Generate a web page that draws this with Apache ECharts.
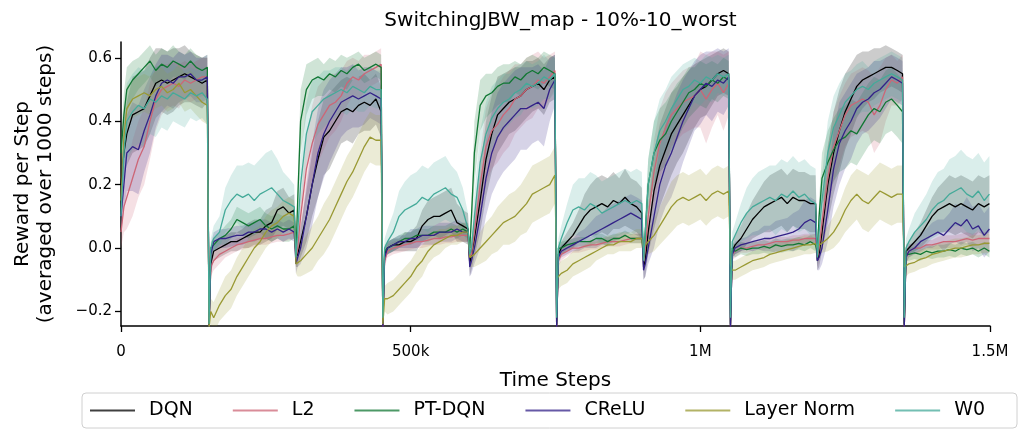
<!DOCTYPE html>
<html>
<head>
<meta charset="utf-8">
<script src="https://cdn.jsdelivr.net/npm/echarts@6/dist/echarts.min.js"></script>
<style>
html,body{margin:0;padding:0;background:#fff;}
#chart{width:1029px;height:432px;}
</style>
</head>
<body>
<div id="chart"></div>
<script>
// Time steps in thousands
const steps = [0,5,10,20,30,40,50,60,70,80,90,100,110,120,130,140,149,
152,155,160,170,180,190,200,210,220,230,240,250,260,270,280,290,299,
302,305,310,320,330,340,350,360,370,380,390,400,410,420,430,440,449,
452,455,460,470,480,490,500,510,520,530,540,550,560,570,580,590,599,
602,605,610,620,630,640,650,660,670,680,690,700,710,720,730,740,749,
752,755,760,770,780,790,800,810,820,830,840,850,860,870,880,890,899,
902,905,910,920,930,940,950,960,970,980,990,1000,1010,1020,1030,1040,1049,
1052,1055,1060,1070,1080,1090,1100,1110,1120,1130,1140,1150,1160,1170,1180,1190,1199,
1202,1205,1210,1220,1230,1240,1250,1260,1270,1280,1290,1300,1310,1320,1330,1340,1349,
1352,1355,1360,1370,1380,1390,1400,1410,1420,1430,1440,1450,1460,1470,1480,1490,1499];

const dqnMean = [0.2,0.3,0.36,0.42,0.43,0.44,0.48,0.52,0.53,0.52,0.53,0.54,0.55,0.54,0.53,0.52,0.53,
-0.25,-0.05,-0.01,0.0,0.01,0.02,0.02,0.03,0.04,0.05,0.05,0.07,0.08,0.12,0.13,0.11,0.12,
-0.03,-0.02,0.02,0.1,0.2,0.28,0.35,0.37,0.40,0.43,0.44,0.43,0.45,0.46,0.45,0.47,0.43,
-0.25,-0.02,0.0,0.01,0.01,0.02,0.02,0.03,0.07,0.09,0.1,0.1,0.11,0.12,0.08,0.07,0.06,
-0.05,-0.02,0.03,0.15,0.28,0.36,0.42,0.44,0.46,0.47,0.48,0.5,0.51,0.52,0.5,0.53,0.54,
-0.25,-0.02,0.0,0.02,0.04,0.07,0.1,0.12,0.13,0.14,0.13,0.15,0.14,0.16,0.14,0.13,0.11,
-0.06,-0.04,0.05,0.18,0.26,0.31,0.36,0.39,0.42,0.45,0.48,0.5,0.51,0.53,0.55,0.56,0.55,
-0.25,-0.01,0.01,0.03,0.06,0.09,0.11,0.13,0.14,0.15,0.16,0.14,0.16,0.15,0.15,0.14,0.14,
-0.04,-0.02,0.05,0.2,0.3,0.37,0.43,0.47,0.51,0.53,0.54,0.55,0.56,0.57,0.57,0.56,0.55,
-0.25,-0.01,0.0,0.02,0.04,0.07,0.1,0.12,0.13,0.14,0.13,0.14,0.13,0.12,0.14,0.13,0.14];
const dqnBand = [0.05,0.08,0.1,0.12,0.12,0.12,0.12,0.11,0.1,0.1,0.1,0.09,0.09,0.08,0.08,0.08,0.07,
0.02,0.03,0.03,0.03,0.03,0.03,0.03,0.03,0.04,0.04,0.04,0.05,0.05,0.06,0.06,0.05,0.05,
0.03,0.04,0.05,0.08,0.1,0.12,0.12,0.12,0.11,0.1,0.1,0.1,0.09,0.09,0.08,0.08,0.08,
0.02,0.02,0.02,0.02,0.02,0.03,0.03,0.04,0.05,0.06,0.06,0.07,0.07,0.07,0.06,0.05,0.05,
0.04,0.05,0.06,0.1,0.12,0.12,0.12,0.11,0.1,0.1,0.09,0.09,0.08,0.08,0.08,0.07,0.07,
0.02,0.02,0.02,0.03,0.04,0.05,0.07,0.08,0.09,0.09,0.09,0.09,0.08,0.09,0.08,0.08,0.08,
0.04,0.05,0.07,0.12,0.13,0.13,0.13,0.12,0.12,0.11,0.1,0.09,0.09,0.08,0.07,0.07,0.07,
0.02,0.02,0.03,0.04,0.05,0.06,0.07,0.08,0.09,0.09,0.09,0.09,0.09,0.09,0.09,0.09,0.09,
0.03,0.04,0.06,0.12,0.13,0.13,0.12,0.11,0.1,0.09,0.08,0.08,0.07,0.07,0.06,0.06,0.06,
0.02,0.02,0.02,0.03,0.04,0.05,0.06,0.07,0.08,0.09,0.09,0.09,0.09,0.09,0.09,0.09,0.09];

const l2Mean = [0.05,0.13,0.16,0.22,0.28,0.32,0.40,0.47,0.50,0.51,0.52,0.51,0.53,0.52,0.53,0.54,0.54,
-0.25,-0.06,-0.04,-0.02,-0.01,0.0,0.01,0.015,0.02,0.025,0.03,0.03,0.035,0.04,0.04,0.045,0.05,
-0.03,0.0,0.1,0.25,0.33,0.39,0.42,0.45,0.46,0.48,0.52,0.54,0.53,0.55,0.56,0.57,0.58,
-0.25,-0.04,-0.01,0.0,0.005,0.01,0.015,0.02,0.02,0.025,0.03,0.03,0.035,0.035,0.04,0.04,0.04,
-0.03,-0.02,0.05,0.2,0.32,0.37,0.39,0.42,0.44,0.47,0.48,0.5,0.51,0.53,0.52,0.54,0.56,
-0.25,-0.04,-0.02,-0.01,0.0,0.0,0.005,0.01,0.01,0.015,0.02,0.02,0.02,0.025,0.03,0.03,0.03,
-0.04,0.0,0.1,0.24,0.33,0.38,0.42,0.44,0.46,0.47,0.48,0.5,0.47,0.5,0.52,0.49,0.52,
-0.25,-0.02,-0.01,0.0,0.0,0.005,0.01,0.01,0.015,0.02,0.02,0.02,0.025,0.025,0.03,0.03,0.03,
-0.03,0.0,0.08,0.22,0.32,0.37,0.42,0.45,0.46,0.47,0.46,0.42,0.45,0.5,0.53,0.52,0.54,
-0.25,-0.03,-0.01,0.0,0.0,0.01,0.01,0.015,0.02,0.02,0.02,0.025,0.03,0.025,0.03,0.03,0.03];
const l2Band = [0.05,0.08,0.1,0.12,0.12,0.12,0.12,0.1,0.08,0.07,0.07,0.07,0.06,0.06,0.06,0.06,0.06,
0.02,0.03,0.03,0.03,0.02,0.02,0.02,0.02,0.02,0.02,0.02,0.02,0.02,0.02,0.02,0.02,0.02,
0.03,0.03,0.05,0.1,0.12,0.12,0.11,0.1,0.09,0.08,0.07,0.06,0.06,0.06,0.05,0.05,0.05,
0.02,0.02,0.02,0.02,0.02,0.02,0.02,0.02,0.02,0.02,0.02,0.02,0.02,0.02,0.02,0.02,0.02,
0.03,0.03,0.05,0.1,0.12,0.12,0.12,0.12,0.12,0.11,0.1,0.1,0.1,0.09,0.08,0.07,0.06,
0.02,0.02,0.02,0.015,0.015,0.015,0.015,0.015,0.015,0.015,0.015,0.015,0.015,0.015,0.015,0.015,0.015,
0.03,0.04,0.06,0.1,0.11,0.11,0.1,0.1,0.1,0.1,0.1,0.12,0.14,0.12,0.1,0.12,0.1,
0.02,0.02,0.02,0.015,0.015,0.015,0.015,0.015,0.015,0.015,0.015,0.015,0.015,0.015,0.015,0.015,0.015,
0.03,0.04,0.06,0.1,0.11,0.11,0.1,0.1,0.1,0.1,0.1,0.12,0.12,0.1,0.08,0.07,0.07,
0.02,0.02,0.02,0.015,0.015,0.015,0.015,0.02,0.02,0.02,0.02,0.02,0.02,0.02,0.02,0.02,0.02];

const ptMean = [0.3,0.42,0.5,0.53,0.55,0.57,0.59,0.56,0.58,0.57,0.59,0.58,0.57,0.59,0.57,0.56,0.57,
-0.25,0.0,0.01,0.03,0.04,0.06,0.09,0.08,0.07,0.08,0.09,0.07,0.06,0.07,0.06,0.06,0.07,
-0.02,0.15,0.4,0.5,0.53,0.54,0.53,0.55,0.54,0.56,0.55,0.57,0.58,0.56,0.57,0.58,0.57,
-0.24,-0.01,0.0,0.01,0.02,0.03,0.03,0.04,0.04,0.04,0.05,0.05,0.05,0.06,0.05,0.06,0.05,
0.0,0.1,0.3,0.45,0.48,0.49,0.51,0.52,0.52,0.54,0.53,0.55,0.56,0.55,0.57,0.56,0.55,
-0.24,0.0,0.0,0.01,0.015,0.02,0.02,0.02,0.03,0.03,0.02,0.03,0.03,0.04,0.03,0.03,0.03,
-0.03,0.05,0.2,0.3,0.34,0.36,0.4,0.43,0.46,0.49,0.5,0.52,0.51,0.53,0.52,0.54,0.53,
-0.24,0.0,-0.01,0.0,-0.005,0.0,0.0,0.005,0.0,0.01,0.005,0.01,0.01,0.015,0.01,0.02,0.01,
-0.02,0.1,0.22,0.27,0.31,0.34,0.35,0.37,0.36,0.39,0.42,0.44,0.43,0.46,0.47,0.45,0.43,
-0.24,-0.02,-0.02,-0.015,-0.02,-0.01,-0.015,-0.01,-0.01,-0.005,-0.01,0.0,-0.005,0.0,-0.01,0.0,-0.01];
const ptBand = [0.05,0.07,0.07,0.06,0.05,0.05,0.05,0.05,0.05,0.05,0.05,0.04,0.04,0.04,0.04,0.04,0.04,
0.02,0.02,0.02,0.02,0.03,0.03,0.04,0.04,0.04,0.04,0.04,0.04,0.04,0.04,0.04,0.04,0.04,
0.03,0.06,0.1,0.08,0.06,0.06,0.05,0.05,0.05,0.05,0.05,0.04,0.04,0.04,0.04,0.04,0.04,
0.02,0.02,0.02,0.02,0.02,0.02,0.02,0.02,0.02,0.02,0.02,0.02,0.02,0.02,0.02,0.02,0.02,
0.03,0.05,0.1,0.08,0.07,0.06,0.06,0.06,0.06,0.05,0.05,0.05,0.05,0.05,0.05,0.05,0.05,
0.02,0.02,0.02,0.015,0.015,0.015,0.015,0.015,0.015,0.015,0.015,0.015,0.015,0.015,0.015,0.015,0.015,
0.03,0.05,0.08,0.1,0.1,0.1,0.09,0.09,0.08,0.08,0.07,0.07,0.07,0.06,0.06,0.06,0.06,
0.02,0.02,0.02,0.02,0.02,0.02,0.02,0.02,0.02,0.02,0.02,0.02,0.02,0.02,0.02,0.02,0.02,
0.03,0.05,0.08,0.1,0.1,0.1,0.1,0.1,0.1,0.1,0.1,0.1,0.1,0.1,0.1,0.1,0.1,
0.02,0.02,0.02,0.02,0.02,0.02,0.02,0.02,0.02,0.02,0.02,0.02,0.02,0.02,0.02,0.02,0.02];

const creluMean = [0.1,0.2,0.3,0.32,0.31,0.37,0.42,0.48,0.52,0.53,0.52,0.54,0.54,0.55,0.53,0.53,0.54,
-0.25,-0.02,0.02,0.03,0.03,0.035,0.04,0.04,0.05,0.05,0.06,0.06,0.05,0.06,0.05,0.06,0.05,
-0.05,-0.03,0.0,0.1,0.2,0.3,0.36,0.4,0.43,0.46,0.47,0.48,0.47,0.48,0.49,0.48,0.47,
-0.25,-0.03,0.0,0.01,0.02,0.02,0.03,0.03,0.04,0.04,0.04,0.05,0.05,0.05,0.06,0.05,0.05,
-0.06,-0.04,0.0,0.1,0.22,0.3,0.35,0.38,0.4,0.42,0.44,0.44,0.45,0.46,0.44,0.5,0.53,
-0.25,-0.03,-0.01,0.0,0.01,0.02,0.03,0.04,0.05,0.06,0.07,0.08,0.09,0.1,0.11,0.1,0.09,
-0.07,-0.05,0.0,0.1,0.2,0.26,0.3,0.35,0.4,0.44,0.48,0.5,0.52,0.51,0.53,0.52,0.54,
-0.25,-0.02,0.0,0.01,0.015,0.02,0.025,0.03,0.03,0.035,0.04,0.045,0.05,0.06,0.08,0.09,0.08,
-0.04,-0.03,0.0,0.12,0.25,0.33,0.37,0.4,0.44,0.46,0.47,0.49,0.5,0.52,0.54,0.53,0.52,
-0.25,-0.03,-0.01,0.0,0.02,0.03,0.04,0.05,0.04,0.06,0.08,0.07,0.09,0.06,0.07,0.04,0.06];
const creluBand = [0.05,0.08,0.12,0.14,0.14,0.13,0.12,0.1,0.09,0.08,0.08,0.08,0.07,0.07,0.07,0.07,0.07,
0.02,0.03,0.03,0.03,0.03,0.03,0.03,0.03,0.03,0.03,0.03,0.03,0.03,0.03,0.03,0.03,0.03,
0.03,0.03,0.05,0.1,0.13,0.14,0.14,0.13,0.12,0.11,0.1,0.1,0.09,0.09,0.08,0.08,0.08,
0.02,0.02,0.02,0.02,0.02,0.02,0.03,0.03,0.03,0.03,0.03,0.03,0.03,0.03,0.03,0.03,0.03,
0.03,0.04,0.05,0.1,0.12,0.13,0.14,0.14,0.14,0.14,0.13,0.13,0.12,0.12,0.12,0.1,0.08,
0.02,0.02,0.02,0.02,0.02,0.03,0.03,0.04,0.05,0.05,0.06,0.06,0.06,0.06,0.06,0.06,0.06,
0.03,0.04,0.05,0.1,0.12,0.13,0.14,0.14,0.13,0.12,0.11,0.11,0.1,0.11,0.1,0.1,0.09,
0.02,0.02,0.02,0.02,0.02,0.03,0.03,0.04,0.04,0.05,0.05,0.05,0.06,0.06,0.07,0.07,0.07,
0.03,0.04,0.05,0.1,0.12,0.13,0.12,0.12,0.11,0.1,0.1,0.1,0.09,0.08,0.07,0.07,0.07,
0.02,0.02,0.02,0.02,0.03,0.03,0.04,0.04,0.05,0.05,0.06,0.06,0.07,0.07,0.07,0.07,0.07];

const lnMean = [0.15,0.35,0.44,0.47,0.48,0.49,0.48,0.50,0.51,0.49,0.50,0.52,0.49,0.50,0.48,0.46,0.45,
-0.25,-0.2,-0.22,-0.18,-0.15,-0.13,-0.09,-0.06,-0.03,0.0,0.02,0.05,0.07,0.08,0.1,0.11,0.10,
-0.05,-0.05,-0.04,-0.02,0.0,0.03,0.06,0.09,0.13,0.17,0.21,0.24,0.28,0.32,0.35,0.34,0.34,
-0.24,-0.16,-0.16,-0.15,-0.13,-0.11,-0.09,-0.06,-0.04,-0.01,0.01,0.02,0.03,0.04,0.04,0.05,0.05,
-0.03,-0.03,-0.02,0.0,0.02,0.04,0.06,0.08,0.09,0.1,0.12,0.14,0.17,0.18,0.19,0.2,0.23,
-0.1,-0.09,-0.08,-0.07,-0.05,-0.04,-0.03,-0.02,-0.01,0.0,0.01,0.01,0.02,0.02,0.02,0.03,0.03,
0.0,0.01,0.02,0.04,0.07,0.1,0.13,0.15,0.16,0.15,0.16,0.17,0.15,0.17,0.18,0.17,0.18,
-0.05,-0.07,-0.07,-0.06,-0.05,-0.04,-0.035,-0.03,-0.02,-0.015,-0.01,-0.005,0.0,0.005,0.01,0.01,0.015,
0.0,0.01,0.015,0.03,0.05,0.08,0.12,0.15,0.17,0.15,0.14,0.16,0.18,0.17,0.16,0.17,0.17,
-0.06,-0.06,-0.05,-0.045,-0.035,-0.03,-0.02,-0.015,-0.01,-0.005,0.0,0.0,0.005,0.01,0.01,0.015,0.015];
const lnBand = [0.05,0.07,0.07,0.06,0.06,0.06,0.06,0.06,0.06,0.06,0.06,0.06,0.06,0.06,0.06,0.06,0.06,
0.02,0.04,0.05,0.05,0.06,0.06,0.06,0.06,0.06,0.06,0.05,0.05,0.05,0.05,0.05,0.05,0.05,
0.03,0.04,0.05,0.06,0.07,0.07,0.08,0.08,0.08,0.08,0.08,0.08,0.08,0.08,0.08,0.08,0.08,
0.02,0.04,0.05,0.05,0.05,0.05,0.05,0.05,0.05,0.04,0.04,0.04,0.03,0.03,0.03,0.03,0.03,
0.03,0.03,0.04,0.05,0.06,0.06,0.07,0.07,0.08,0.08,0.08,0.09,0.09,0.09,0.09,0.09,0.09,
0.04,0.04,0.04,0.04,0.04,0.04,0.04,0.04,0.03,0.03,0.03,0.03,0.03,0.03,0.03,0.03,0.03,
0.03,0.03,0.04,0.05,0.06,0.07,0.08,0.08,0.08,0.08,0.08,0.08,0.08,0.08,0.08,0.08,0.08,
0.03,0.03,0.03,0.03,0.03,0.03,0.03,0.03,0.03,0.03,0.03,0.03,0.03,0.03,0.03,0.03,0.03,
0.03,0.03,0.03,0.04,0.05,0.06,0.07,0.08,0.08,0.09,0.09,0.09,0.09,0.09,0.09,0.09,0.09,
0.03,0.03,0.03,0.03,0.03,0.03,0.03,0.03,0.03,0.03,0.03,0.03,0.03,0.03,0.03,0.03,0.03];

const w0Mean = [0.1,0.3,0.4,0.43,0.45,0.44,0.47,0.46,0.48,0.47,0.49,0.48,0.47,0.49,0.48,0.49,0.47,
-0.24,0.0,0.03,0.05,0.12,0.15,0.17,0.16,0.17,0.15,0.17,0.18,0.19,0.17,0.15,0.14,0.13,
-0.03,0.05,0.2,0.36,0.43,0.45,0.47,0.48,0.49,0.5,0.49,0.51,0.5,0.49,0.51,0.5,0.5,
-0.22,0.0,0.02,0.05,0.1,0.12,0.13,0.14,0.16,0.15,0.17,0.18,0.19,0.17,0.16,0.12,0.06,
-0.02,0.0,0.1,0.27,0.36,0.41,0.44,0.46,0.47,0.49,0.5,0.52,0.51,0.52,0.54,0.53,0.55,
-0.22,0.0,0.03,0.08,0.12,0.13,0.12,0.14,0.13,0.11,0.12,0.13,0.14,0.15,0.14,0.15,0.14,
-0.04,0.05,0.2,0.3,0.37,0.4,0.44,0.47,0.5,0.51,0.53,0.52,0.54,0.53,0.55,0.54,0.55,
-0.22,0.02,0.04,0.08,0.11,0.13,0.14,0.15,0.16,0.15,0.17,0.16,0.18,0.16,0.17,0.15,0.14,
-0.03,0.05,0.15,0.3,0.38,0.42,0.46,0.48,0.5,0.51,0.5,0.52,0.53,0.54,0.55,0.54,0.53,
-0.22,0.0,0.02,0.05,0.07,0.09,0.12,0.14,0.15,0.17,0.18,0.19,0.17,0.16,0.18,0.15,0.17];
const w0Band = [0.05,0.1,0.12,0.12,0.12,0.12,0.11,0.11,0.1,0.1,0.09,0.09,0.09,0.08,0.08,0.08,0.08,
0.02,0.03,0.04,0.05,0.07,0.08,0.09,0.1,0.1,0.11,0.11,0.12,0.12,0.11,0.09,0.08,0.07,
0.03,0.05,0.08,0.1,0.1,0.09,0.09,0.08,0.08,0.07,0.07,0.07,0.07,0.06,0.06,0.06,0.06,
0.02,0.03,0.04,0.06,0.08,0.09,0.1,0.1,0.1,0.1,0.1,0.1,0.1,0.09,0.08,0.07,0.05,
0.03,0.04,0.07,0.1,0.1,0.1,0.09,0.09,0.08,0.08,0.08,0.07,0.07,0.07,0.07,0.06,0.06,
0.02,0.03,0.04,0.06,0.08,0.09,0.1,0.1,0.1,0.1,0.1,0.1,0.1,0.1,0.1,0.1,0.1,
0.03,0.05,0.08,0.1,0.1,0.1,0.1,0.09,0.08,0.08,0.07,0.07,0.07,0.07,0.06,0.06,0.06,
0.02,0.03,0.04,0.06,0.08,0.09,0.1,0.1,0.1,0.11,0.11,0.11,0.11,0.11,0.11,0.11,0.11,
0.03,0.05,0.08,0.1,0.1,0.1,0.09,0.08,0.08,0.08,0.07,0.07,0.07,0.07,0.07,0.07,0.07,
0.02,0.03,0.04,0.06,0.07,0.08,0.09,0.1,0.1,0.11,0.11,0.12,0.12,0.12,0.12,0.12,0.12];

const seriesNames = ['DQN','L2','PT-DQN','CReLU','Layer Norm','W0'];
const seriesColors = ['#000000','#CC6677','#117733','#332288','#999933','#44AA99'];
const xTickValues = [0,500,1000,1500];
const xTickLabels = ['0','500k','1M','1.5M'];
const yTickValues = [-0.2,0.0,0.2,0.4,0.6];
const yTickLabels = ['\u22120.2','0.0','0.2','0.4','0.6'];

const means = [dqnMean,l2Mean,ptMean,creluMean,lnMean,w0Mean];
const bands = [dqnBand,l2Band,ptBand,creluBand,lnBand,w0Band];

const FONT = 'DejaVu Sans';
const series = [];
seriesNames.forEach((name, k) => {
  const rows = steps.map((x,i)=>[x, means[k][i]-bands[k][i], means[k][i]+bands[k][i]]);
  series.push({
    type:'custom', name:'_band'+k, silent:true, z:1, clip:true,
    encode:{x:0, y:[1,2]},
    data: rows,
    renderItem:(params, api) => {
      if (params.dataIndex !== 0) return null;
      const pts = [];
      for (let i=0;i<rows.length;i++) pts.push(api.coord([rows[i][0], rows[i][2]]));
      for (let i=rows.length-1;i>=0;i--) pts.push(api.coord([rows[i][0], rows[i][1]]));
      const cs = params.coordSys;
      return {
        type:'group',
        clipPath:{type:'rect', shape:{x:cs.x, y:cs.y, width:cs.width, height:cs.height}},
        children:[{type:'polygon', shape:{points:pts},
          style:{fill:seriesColors[k], opacity:0.2, stroke:null}}]
      };
    }
  });
});
seriesNames.forEach((name, k) => {
  series.push({
    type:'line', name:name,
    data: steps.map((x,i)=>[x, means[k][i]]),
    symbol:'none', lineStyle:{width:1.3, color:seriesColors[k]},
    itemStyle:{color:seriesColors[k]}, z:3
  });
});

const chart = echarts.init(document.getElementById('chart'), null, {renderer:'canvas'});
chart.setOption({
  animation:false,
  backgroundColor:'#ffffff',
  textStyle:{fontFamily:FONT, color:'#000'},
  title:{
    text:'SwitchingJBW_map - 10%-10_worst',
    left:555.5, textAlign:'center', top:6,
    textStyle:{fontFamily:FONT, fontSize:20, fontWeight:'normal', color:'#000'}
  },
  grid:{left:121, right:39, top:42, bottom:106, containLabel:false},
  xAxis:{
    type:'value', min:0, max:1500, interval:500,
    name:'Time Steps', nameLocation:'middle', nameGap:45,
    nameTextStyle:{fontFamily:FONT, fontSize:20, color:'#000'},
    axisLine:{show:true, onZero:false, lineStyle:{color:'#000', width:1.5}},
    axisTick:{show:true, length:6, lineStyle:{color:'#000', width:1.3}},
    axisLabel:{fontFamily:FONT, fontSize:15, color:'#000', margin:19,
      formatter:(v)=>{const i=xTickValues.indexOf(v); return i>=0?xTickLabels[i]:'';}},
    splitLine:{show:false}
  },
  yAxis:{
    type:'value', min:-0.246, max:0.65,
    name:'Reward per Step\n(averaged over 1000 steps)', nameLocation:'middle', nameRotate:90, nameGap:64,
    nameTextStyle:{fontFamily:FONT, fontSize:20, color:'#000', lineHeight:23, align:'center'},
    axisLine:{show:true, onZero:false, lineStyle:{color:'#000', width:1.5}},
    axisTick:{show:true, length:6, lineStyle:{color:'#000', width:1.3}, customValues:yTickValues},
    axisLabel:{fontFamily:FONT, fontSize:15, color:'#000', margin:9, customValues:yTickValues,
      formatter:(v)=>{let i=-1; yTickValues.forEach((t,j)=>{if(Math.abs(t-v)<1e-6)i=j;}); return i>=0?yTickLabels[i]:'';}},
    splitLine:{show:false}
  },
  legend:{
    data:seriesNames.map((n,k)=>({name:n, itemStyle:{color:seriesColors[k], opacity:0.75}})),
    left:82, top:393, orient:'horizontal',
    icon:'rect', itemWidth:45, itemHeight:2, itemGap:40,
    padding:[8,32,8,8],
    borderColor:'#d0d0d0', borderWidth:1, borderRadius:4,
    textStyle:{fontFamily:FONT, fontSize:19, color:'#000', padding:[0,0,0,9]},
    selectedMode:false
  },
  series:series
});
</script>
</body>
</html>
